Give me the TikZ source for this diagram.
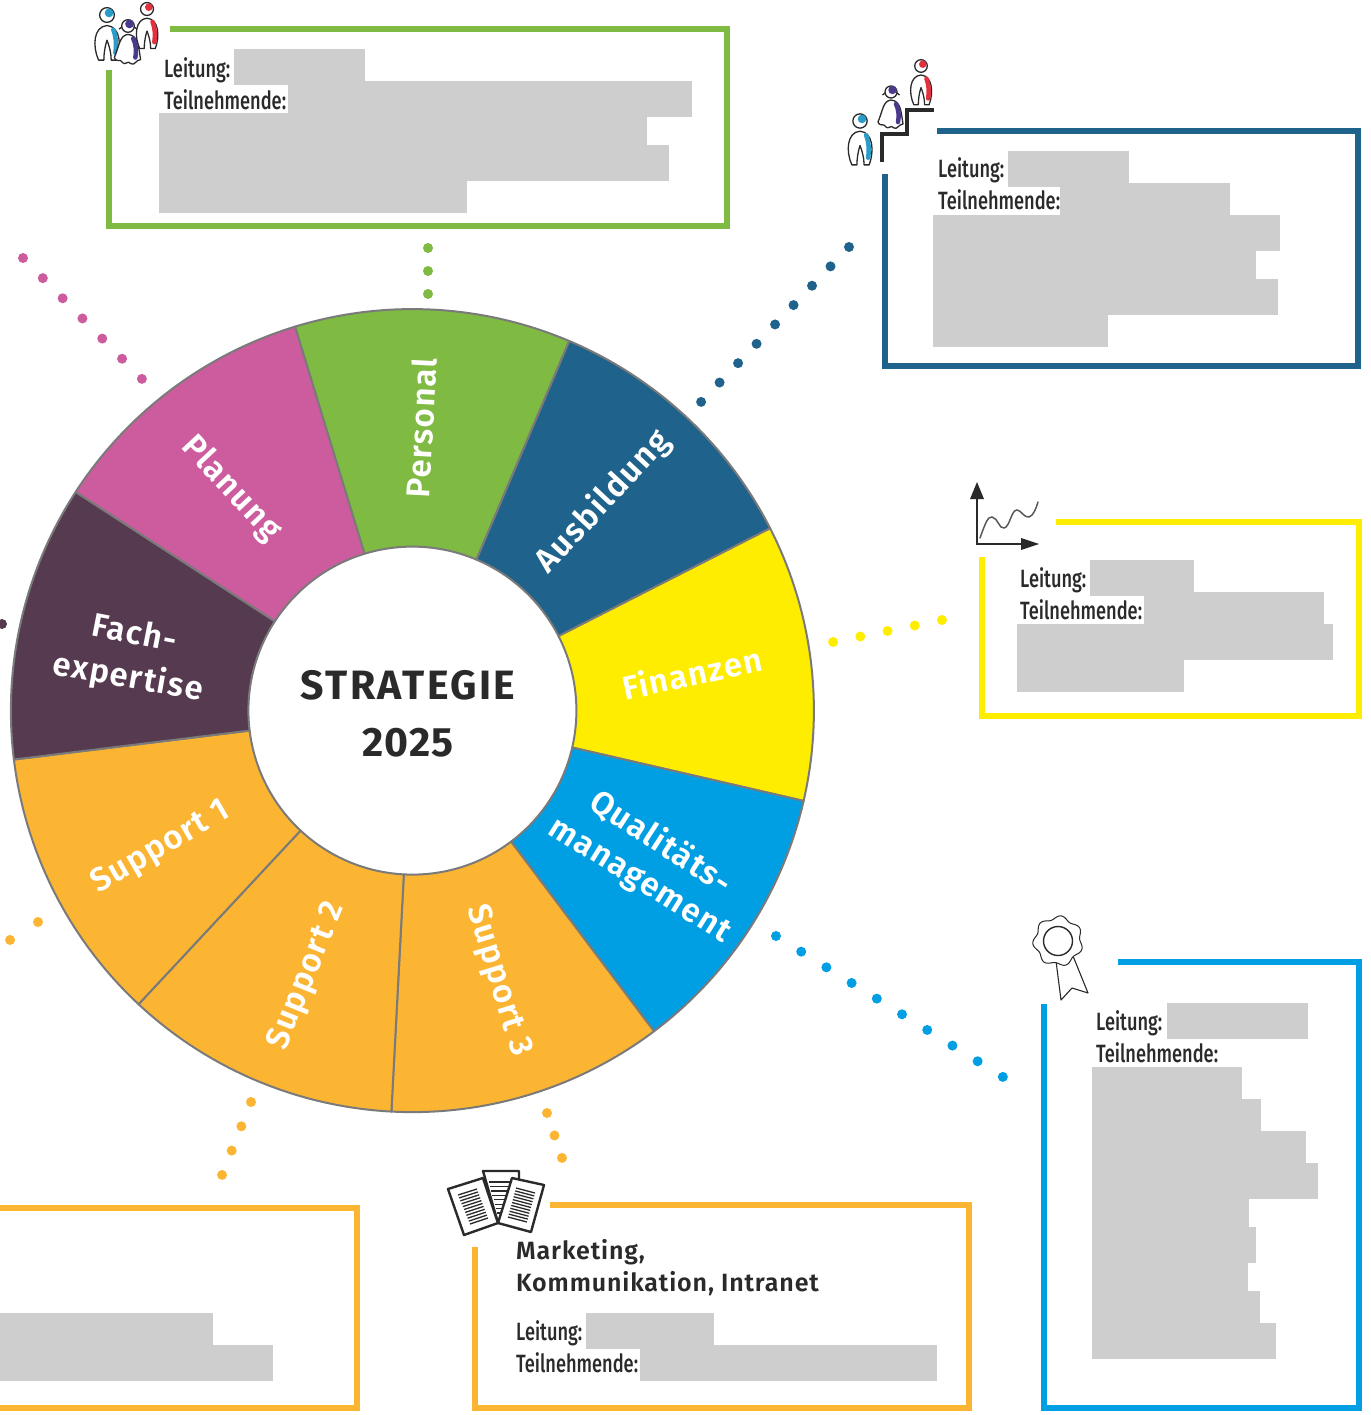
\documentclass[tikz,border=0pt]{standalone}
\usepackage{fontspec}
\usetikzlibrary{calc}
\newfontfamily\wheelfont[LetterSpace=4]{Fira Sans SemiBold}
\newfontfamily\headfont[LetterSpace=3.5]{Fira Sans SemiBold}
\newfontfamily\bigfont[LetterSpace=2]{Fira Sans}
\newfontfamily\stratfont[LetterSpace=6]{Fira Sans}
\newfontfamily\condfont[FakeStretch=0.73]{Fira Sans Medium}
\definecolor{cgreen}{HTML}{7FBA42}
\definecolor{cblue}{HTML}{1F638C}
\definecolor{cyellow}{HTML}{FFED00}
\definecolor{ccyan}{HTML}{009FE3}
\definecolor{corange}{HTML}{FBB533}
\definecolor{cplum}{HTML}{553A50}
\definecolor{cpink}{HTML}{CC5C9E}
\definecolor{cgrey}{HTML}{CECECE}
\definecolor{cink}{HTML}{2A2A2A}
\definecolor{cred}{HTML}{E2303F}
\definecolor{cpurple}{HTML}{4B3A8C}
\definecolor{cpblue}{HTML}{2A9CC8}
\tikzset{
  wheeltext/.style={text=white,font=\wheelfont\fontsize{33}{38}\selectfont,inner sep=0pt,align=center},
  centertext/.style={text=cink,inner sep=0pt},
  labeltext/.style={text=cink,font=\condfont\fontsize{25}{28}\selectfont,inner sep=0pt,anchor=base west},
  headtext/.style={text=cink,font=\headfont\fontsize{25}{28}\selectfont,inner sep=0pt,anchor=base west},
  sector/.style={draw=black!52,line width=2pt,line join=round},
  framebox/.style={line width=6pt,miter limit=10},
  dotrow/.style={line width=10pt,line cap=round},
  iconline/.style={draw=cink,line width=1.3pt,line join=round}
}
\newcommand{\greyrow}[4]{\fill[cgrey] (#1,#2) rectangle (#3,#4);}
\newcommand{\sectorfig}[3]{%
  \path[sector,fill=#3] (#1:401.5) arc[start angle=#1,end angle=#2,radius=401.5] -- (#2:164) arc[start angle=#2,end angle=#1,radius=164] -- cycle;}
\newcommand{\adultfig}[4]{%
  \begin{scope}[shift={(#1,#2)},scale=#3]
    \draw[iconline,fill=white] (-8,43) .. controls (-14,30) and (-13,11) .. (0,10) .. controls (13,11) and (14,30) .. (9,43) -- (4,43) .. controls (4,36) and (2,29) .. (0,24) .. controls (-2,30) and (-3,37) .. (-3,43) -- cycle;
    \draw[#4,line width=4.5pt,line cap=round] (6,14) .. controls (9,22) and (9,28) .. (8,36);
    \draw[iconline,fill=white] (0,0) circle[radius=7];
    \fill[#4] (2,-2) circle[radius=4.2];
  \end{scope}}
\newcommand{\kidfig}[4]{%
  \begin{scope}[shift={(#1,#2)},scale=#3]
    \draw[iconline,fill=white] (0,8) .. controls (-8,9) and (-8,18) .. (-13,30) .. controls (-10,36) and (-8,30) .. (-5,35) .. controls (-3,38) and (0,32) .. (3,36) .. controls (6,38) and (8,32) .. (12,32) .. controls (10,20) and (10,9) .. (0,8) -- cycle;
    \draw[#4,line width=4.5pt,line cap=round] (5,12) .. controls (8,18) and (8,25) .. (7,30);
    \draw[iconline,fill=white] (0,0) circle[radius=6];
    \fill[#4] (1.5,-2) circle[radius=4.2];
    \draw[iconline] (-6,1) -- (-8.5,3) (6,1) -- (8.5,3);
  \end{scope}}
\newcommand{\paperlines}[5]{%
  \foreach \t in {0,...,#5} {\draw[cink,line width=1.3pt] ($(#1)!\t/#5!(#3)$) -- ($(#2)!\t/#5!(#4)$);}}
\begin{document}
\begin{tikzpicture}[x=1pt,y=-1pt]
\useasboundingbox (0,0) rectangle (1370,1415);
\clip (0,0) rectangle (1370,1415);

% grey redaction blocks
\greyrow{234}{49}{365}{85}\greyrow{288}{81}{692}{117}\greyrow{159}{113}{647}{149}\greyrow{159}{145}{669}{181}\greyrow{159}{177}{467}{213}
\greyrow{1008}{151}{1129}{187}\greyrow{1060}{183}{1230}{219}\greyrow{933}{215}{1280}{251}\greyrow{933}{247}{1256}{283}\greyrow{933}{279}{1278}{315}\greyrow{933}{311}{1108}{347}
\greyrow{1090}{560}{1194}{596}\greyrow{1144}{592}{1324}{628}\greyrow{1017}{624}{1333}{660}\greyrow{1017}{656}{1184}{692}
\greyrow{1167}{1003}{1308}{1039}\greyrow{1092}{1067}{1242}{1103}\greyrow{1092}{1099}{1261}{1135}\greyrow{1092}{1131}{1306}{1167}\greyrow{1092}{1163}{1318}{1199}\greyrow{1092}{1195}{1249}{1231}\greyrow{1092}{1227}{1256}{1263}\greyrow{1092}{1259}{1248}{1295}\greyrow{1092}{1291}{1260}{1327}\greyrow{1092}{1323}{1276}{1359}
\greyrow{586}{1313}{714}{1349}\greyrow{640}{1345}{937}{1381}
\greyrow{0}{1313}{213}{1349}\greyrow{0}{1345}{273}{1381}

% frames
\draw[framebox,cgreen] (170,29) -- (727,29) -- (727,226) -- (109,226) -- (109,70);
\draw[framebox,cblue] (937,131) -- (1358,131) -- (1358,366) -- (885,366) -- (885,174);
\draw[framebox,cyellow] (1056,522) -- (1359,522) -- (1359,716) -- (982,716) -- (982,557);
\draw[framebox,ccyan] (1118,962) -- (1359,962) -- (1359,1408) -- (1044,1408) -- (1044,1004);
\draw[framebox,corange] (550,1205) -- (969,1205) -- (969,1408) -- (475,1408) -- (475,1247);
\draw[framebox,corange] (-10,1208) -- (357,1208) -- (357,1408) -- (-10,1408);

% dotted connectors
\coordinate (g1) at (428,248); \coordinate (g2) at (428,294);
\coordinate (b1) at (849,247); \coordinate (b2) at (701,402);
\coordinate (y1) at (942,620); \coordinate (y2) at (833,642);
\coordinate (c1) at (776,936); \coordinate (c2) at (1003,1077);
\coordinate (o1) at (547,1113); \coordinate (o2) at (562,1158);
\coordinate (l1) at (251,1102); \coordinate (l2) at (222,1175);
\coordinate (p1) at (23,258); \coordinate (p2) at (142,379);
\coordinate (s1) at (38,922); \coordinate (s2) at (10,940);
\coordinate (d1) at (2,624);
\draw[dotrow,cgreen,dash pattern=on 0pt off 22.98pt] (g1) -- (g2);
\draw[dotrow,cblue,dash pattern=on 0pt off 26.77pt] (b1) -- (b2);
\draw[dotrow,cyellow,dash pattern=on 0pt off 27.78pt] (y1) -- (y2);
\draw[dotrow,ccyan,dash pattern=on 0pt off 29.67pt] (c1) -- (c2);
\draw[dotrow,corange,dash pattern=on 0pt off 23.68pt] (o1) -- (o2);
\draw[dotrow,corange,dash pattern=on 0pt off 26.15pt] (l1) -- (l2);
\draw[dotrow,cpink,dash pattern=on 0pt off 28.26pt] (p1) -- (p2);
\draw[dotrow,corange,dash pattern=on 0pt off 33.2pt] (s1) -- (s2);
\fill[cplum] (d1) circle[radius=5];

% wheel
\begin{scope}[shift={(412.4,710.6)}]
  \sectorfig{-107}{-67}{cgreen}
  \sectorfig{-67}{-27}{cblue}
  \sectorfig{-27}{13}{cyellow}
  \sectorfig{13}{53}{ccyan}
  \sectorfig{53}{93}{corange}
  \sectorfig{93}{133}{corange}
  \sectorfig{133}{173}{corange}
  \sectorfig{173}{213}{cplum}
  \sectorfig{213}{253}{cpink}
\end{scope}

\node[wheeltext,rotate=87] (personal) at (421,428) {Personal};
\node[wheeltext,rotate=47] (ausbildung) at (603,502) {Ausbildung};
\node[wheeltext,rotate=12] (finanzen) at (692,673) {Finanzen};
\node[wheeltext,rotate=-33] (qual) at (661,842) {Qualitäts-};
\node[wheeltext,rotate=-32] (mgmt) at (639,882) {management};
\node[wheeltext,rotate=-73] (s3) at (498,981) {Support 3};
\node[wheeltext,rotate=68] (s2t) at (307,976) {Support 2};
\node[wheeltext,rotate=30] (s1t) at (161,848) {Support 1};
\node[wheeltext,rotate=-11] (fach) at (135,632) {Fach-};
\node[wheeltext,rotate=-10] (exp) at (128,678) {expertise};
\node[wheeltext,rotate=-47] (planung) at (231,489) {Planung};
\node[centertext,font=\stratfont\bfseries\fontsize{41}{46}\selectfont] (strat) at (408,685) {STRATEGIE};
\node[centertext,font=\bigfont\bfseries\fontsize{41}{46}\selectfont] (year) at (408,743) {2025};

% box labels
\node[labeltext] (l1a) at (164,78) {Leitung:};
\node[labeltext] (l1b) at (164,110) {Teilnehmende:};
\node[labeltext] (l2a) at (938,178) {Leitung:};
\node[labeltext] (l2b) at (938,210) {Teilnehmende:};
\node[labeltext] (l3a) at (1020,587) {Leitung:};
\node[labeltext] (l3b) at (1020,619) {Teilnehmende:};
\node[labeltext] (l4a) at (1096,1030) {Leitung:};
\node[labeltext] (l4b) at (1096,1062) {Teilnehmende:};
\node[labeltext] (l5a) at (516,1340) {Leitung:};
\node[labeltext] (l5b) at (516,1372) {Teilnehmende:};
\node[headtext] (m1) at (516,1259) {Marketing,};
\node[headtext] (m2) at (516,1291) {Kommunikation, Intranet};

% people icon, green frame
\adultfig{147}{9}{0.92}{cred}
\adultfig{107}{15}{1.05}{cpblue}
\kidfig{128}{26}{1.05}{cpurple}

% stairs icon, blue frame
\draw[cink,line width=4pt,miter limit=10] (882,162) -- (882,134) -- (907,134) -- (907,110) -- (934,110);
\adultfig{860}{121}{1.02}{cpblue}
\kidfig{891}{92}{1.0}{cpurple}
\adultfig{921}{66}{0.9}{cred}

% chart icon, yellow frame
\draw[cink,line width=2.2pt] (977,498) -- (977,544) -- (1022,544);
\fill[cink] (977,482) -- (984,499) -- (970,499) -- cycle;
\fill[cink] (1039,544) -- (1021,538) -- (1021,550) -- cycle;
\draw[black!65,line width=1.5pt,line cap=round] (980,538) .. controls (985,524) and (988,516) .. (992,517) .. controls (998,518) and (999,529) .. (1004,528) .. controls (1010,527) and (1011,510) .. (1017,510) .. controls (1021,510) and (1024,518) .. (1029,517) .. controls (1033,516) and (1036,509) .. (1038,502);

% rosette icon, cyan frame
\draw[iconline,line width=1.1pt,fill=white] (1056,961) -- (1061,1000) -- (1072,988) -- (1088,993) -- (1073,956);
\draw[iconline,line width=1pt,fill=white,shift={(1058,941)}] plot[domain=0:360,samples=120,smooth] ({(23.5+1.8*cos(7*\x))*cos(\x+20)},{(23.5+1.8*cos(7*\x))*sin(\x+20)}) -- cycle;
\draw[iconline,line width=1.4pt] (1058,941) circle[radius=14.5];

% papers icon, orange frame
\coordinate (pm1) at (483,1171); \coordinate (pm2) at (519,1171); \coordinate (pm3) at (519,1195); \coordinate (pm4) at (498,1223);
\draw[cink,line width=2.4pt,fill=white,line join=round] (pm1) -- (pm2) -- (pm3) -- (pm4) -- cycle;
\paperlines{489,1182}{513,1182}{497,1213}{503,1213}{7}
\coordinate (pa1) at (448,1189); \coordinate (pa2) at (483,1178); \coordinate (pa3) at (498,1223); \coordinate (pa4) at (464,1235);
\draw[cink,line width=2.4pt,fill=white,line join=round] (pa1) -- (pa2) -- (pa3) -- (pa4) -- cycle;
\paperlines{458,1195}{477,1189}{470,1224}{488,1218}{10}
\coordinate (pb1) at (512,1178); \coordinate (pb2) at (544,1185); \coordinate (pb3) at (531,1232); \coordinate (pb4) at (498,1223);
\draw[cink,line width=2.4pt,fill=white,line join=round] (pb1) -- (pb2) -- (pb3) -- (pb4) -- cycle;
\paperlines{516,1188}{535,1193}{508,1217}{527,1222}{10}
\end{tikzpicture}
\end{document}
